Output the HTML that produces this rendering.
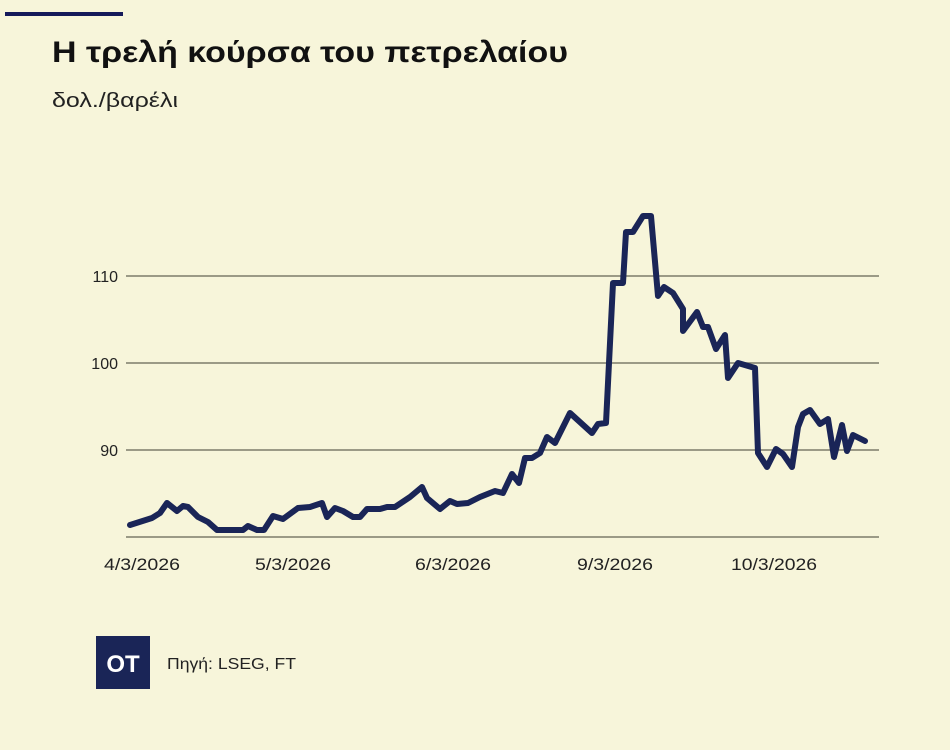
<!DOCTYPE html>
<html><head><meta charset="utf-8"><style>
body{margin:0;background:#f7f5da;}
svg{display:block;font-family:"Liberation Sans",sans-serif;}
</style></head><body>
<svg width="950" height="750" viewBox="0 0 950 750">
<rect width="950" height="750" fill="#f7f5da"/>
<rect x="5" y="12" width="118" height="4" fill="#151a5a"/>
<text x="52" y="62" font-size="30" font-weight="bold" fill="#111" textLength="516" lengthAdjust="spacingAndGlyphs">Η τρελή κούρσα του πετρελαίου</text>
<text x="52" y="107" font-size="20" fill="#222" textLength="126" lengthAdjust="spacingAndGlyphs">δολ./βαρέλι</text>
<g stroke="#7d7c6a" stroke-width="1.5">
<line x1="126" y1="276" x2="879" y2="276"/>
<line x1="126" y1="363" x2="879" y2="363"/>
<line x1="126" y1="450" x2="879" y2="450"/>
<line x1="126" y1="537" x2="879" y2="537"/>
</g>
<g font-size="16" fill="#222" text-anchor="end">
<text x="118" y="282">110</text>
<text x="118" y="369">100</text>
<text x="118" y="456">90</text>
</g>
<g font-size="17" fill="#222">
<text x="104" y="570" textLength="76" lengthAdjust="spacingAndGlyphs">4/3/2026</text>
<text x="255" y="570" textLength="76" lengthAdjust="spacingAndGlyphs">5/3/2026</text>
<text x="415" y="570" textLength="76" lengthAdjust="spacingAndGlyphs">6/3/2026</text>
<text x="577" y="570" textLength="76" lengthAdjust="spacingAndGlyphs">9/3/2026</text>
<text x="731" y="570" textLength="86" lengthAdjust="spacingAndGlyphs">10/3/2026</text>
</g>
<polyline fill="none" stroke="#1a2557" stroke-width="6" stroke-linejoin="round" stroke-linecap="round" points="130,525 152,518 160,513 167,503 177,511 183,506 188,507 198,517 208,522 217,530 243,530 248,526 257,530 264,530 273,516 283,519 298,508 310,507 322,503 327,517 335,508 343,511 353,517 360,517 367,509 380,509 387,507 395,507 410,497 422,487 427,498 440,509 450,501 457,504 468,503 480,497 495,491 503,493 512,474 519,483 525,458 532,458 540,453 547,437 555,443 570,413 592,433 598,424 606,423 613,283 623,283 626,232 633,232 643,216 651,216 658,296 664,287 673,293 683,309 683,331 697,312 703,327 708,327 716,349 725,335 728,378 738,363 755,368 758,453 767,467 776,449 783,454 792,467 798,427 803,414 810,410 820,424 828,419 834,457 842,425 847,451 853,435 865,441"/>
<rect x="96" y="636" width="54" height="53" fill="#1a2557"/>
<text x="123" y="672" font-size="24" font-weight="bold" fill="#fff" text-anchor="middle">OT</text>
<text x="167" y="669" font-size="16" fill="#222" textLength="129" lengthAdjust="spacingAndGlyphs">Πηγή: LSEG, FT</text>
</svg>
</body></html>
